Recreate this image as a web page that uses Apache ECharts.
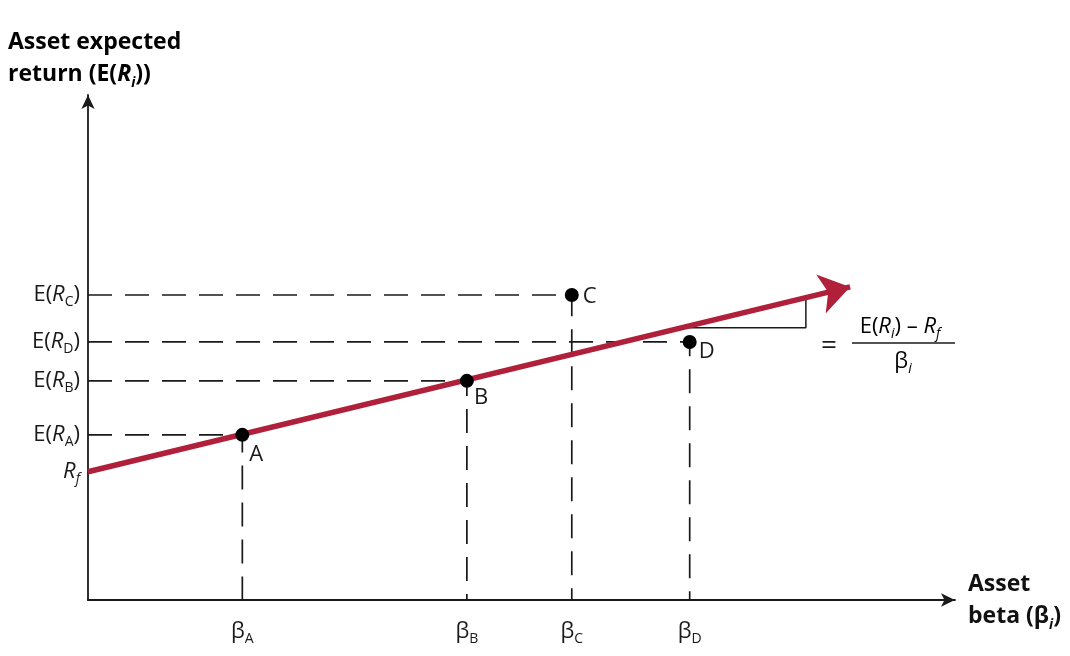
<!DOCTYPE html>
<html lang="en">

<head>
    <meta charset="UTF-8">
    <title>SML</title>
    <script src="https://cdn.jsdelivr.net/npm/echarts@6/dist/echarts.min.js"></script>
    <style>
        * {
            margin: 0;
            padding: 0;
        }

        #main {
            width: 1070px;
            height: 656px;
            background-color: #fff;
        }
    </style>
</head>

<body>
    <div id="main"></div>
    <script>
        // values (abstract units, axes 0..10)
        const names = ['A', 'B', 'C', 'D'];
        const betas = [1.78, 4.37, 5.58, 6.94];
        const returns = [3.27, 4.34, 6.04, 5.11];
        const rf = 2.54;
        const smlEnd = [8.79, 6.20];
        const slopeTri = [[6.87, 5.39], [8.28, 5.39], [8.28, 5.97]];
        // label offsets for the points [dx, dy]
        const labelOffsets = [[0, 20], [0, 17], [4, 2], [2, 10]];

        const FONT = 'Open Sans';
        const INK = '#1a1a1a';
        const RED = '#b0203a';

        var chartDom = document.getElementById('main');
        var myChart = echarts.init(chartDom);

        const subRich = {
            n: { fontSize: 22, fontFamily: FONT, color: INK, lineHeight: 28 },
            i: { fontSize: 22, fontFamily: FONT, color: INK, fontStyle: 'italic', lineHeight: 28 },
            s: { fontSize: 14, fontFamily: FONT, color: INK, verticalAlign: 'bottom', lineHeight: 28, padding: [11, 0, 0, 0] },
            si: { fontSize: 14, fontFamily: FONT, color: INK, fontStyle: 'italic', verticalAlign: 'bottom', lineHeight: 28, padding: [11, 0, 0, 0] },
            b: { fontSize: 23, fontFamily: FONT, fontWeight: 'bold', color: '#111', lineHeight: 32 },
            bi: { fontSize: 23, fontFamily: FONT, fontWeight: 'bold', fontStyle: 'italic', color: '#111', lineHeight: 32 },
            bs: { fontSize: 14, fontFamily: FONT, fontWeight: 'bold', fontStyle: 'italic', color: '#111', verticalAlign: 'bottom', lineHeight: 32, padding: [12, 0, 0, 0] }
        };

        function nearest(arr, v) {
            let best = 0;
            for (let k = 1; k < arr.length; k++) {
                if (Math.abs(arr[k] - v) < Math.abs(arr[best] - v)) best = k;
            }
            return best;
        }

        // dashed guide lines: from y axis to the point, then down to x axis
        const guideSeries = names.map(function (n, k) {
            return {
                type: 'line',
                name: 'guide' + n,
                data: [[0, returns[k]], [betas[k], returns[k]], [betas[k], 0]],
                symbol: 'none',
                silent: true,
                z: 2,
                lineStyle: { color: INK, width: 1.7, type: [24, 13] }
            };
        });

        var option = {
            animation: false,
            backgroundColor: '#fff',
            grid: { left: 88, right: 115, top: 95, bottom: 56 },
            xAxis: {
                type: 'value',
                min: 0,
                max: 10,
                name: '{b|Asset}\n{b|beta (β}{bs|i}{b|)}',
                nameLocation: 'end',
                nameGap: 13,
                nameTextStyle: { align: 'left', verticalAlign: 'middle', rich: subRich },
                axisLine: {
                    lineStyle: { color: INK, width: 1.8 },
                    symbol: ['none', 'arrow'],
                    symbolSize: [10, 14]
                },
                axisTick: { show: false },
                splitLine: { show: false },
                axisLabel: {
                    customValues: betas,
                    margin: 18,
                    formatter: function (v) {
                        return '{n|β}{s|' + names[nearest(betas, v)] + '}';
                    },
                    rich: subRich
                }
            },
            yAxis: {
                type: 'value',
                min: 0,
                max: 10,
                axisLine: {
                    lineStyle: { color: INK, width: 1.8 },
                    symbol: ['none', 'arrow'],
                    symbolSize: [10, 14]
                },
                axisTick: { show: false },
                splitLine: { show: false },
                axisLabel: {
                    customValues: [rf].concat(returns),
                    margin: 8,
                    formatter: function (v) {
                        if (Math.abs(v - rf) < 1e-6) return '{i|R}{si|f}';
                        return '{n|E(}{i|R}{s|' + names[nearest(returns, v)] + '}{n|)}';
                    },
                    rich: subRich
                }
            },
            graphic: [
                {
                    type: 'text',
                    left: 8,
                    top: 31,
                    style: {
                        text: '{b|Asset expected}\n{b|return (E(}{bi|R}{bs|i}{b|))}',
                        rich: subRich
                    }
                },
                {
                    type: 'text',
                    x: 829, y: 346,
                    style: { text: '=', font: '28px "' + FONT + '"', fill: INK, align: 'center', verticalAlign: 'middle' }
                },
                {
                    type: 'text',
                    x: 900, y: 327,
                    style: {
                        text: '{n|E(}{i|R}{si|i}{n|) – }{i|R}{si|f}',
                        rich: subRich,
                        align: 'center',
                        verticalAlign: 'middle'
                    }
                },
                {
                    type: 'line',
                    shape: { x1: 852, y1: 343, x2: 955, y2: 343 },
                    style: { stroke: INK, lineWidth: 1.5 }
                },
                {
                    type: 'text',
                    x: 903, y: 362,
                    style: {
                        text: '{n|β}{si|i}',
                        rich: subRich,
                        align: 'center',
                        verticalAlign: 'middle'
                    }
                }
            ],
            series: guideSeries.concat([
                {
                    type: 'line',
                    name: 'slope',
                    data: slopeTri,
                    symbol: 'none',
                    silent: true,
                    z: 2,
                    lineStyle: { color: INK, width: 1.5 }
                },
                {
                    type: 'lines',
                    name: 'SML',
                    coordinateSystem: 'cartesian2d',
                    silent: true,
                    z: 3,
                    symbol: ['none', 'arrow'],
                    symbolSize: [24, 30],
                    lineStyle: { color: RED, width: 5.5, opacity: 1 },
                    data: [{ coords: [[0, rf], smlEnd] }]
                },
                {
                    type: 'scatter',
                    name: 'assets',
                    z: 5,
                    symbol: 'circle',
                    symbolSize: 14,
                    itemStyle: { color: '#000', opacity: 1 },
                    label: {
                        show: true,
                        position: 'right',
                        distance: 0,
                        fontSize: 22,
                        fontFamily: FONT,
                        color: INK,
                        formatter: function (p) { return names[p.dataIndex]; }
                    },
                    data: names.map(function (n, k) {
                        return {
                            value: [betas[k], returns[k]],
                            label: { offset: labelOffsets[k] }
                        };
                    })
                }
            ])
        };

        option && myChart.setOption(option);
    </script>
</body>

</html>
